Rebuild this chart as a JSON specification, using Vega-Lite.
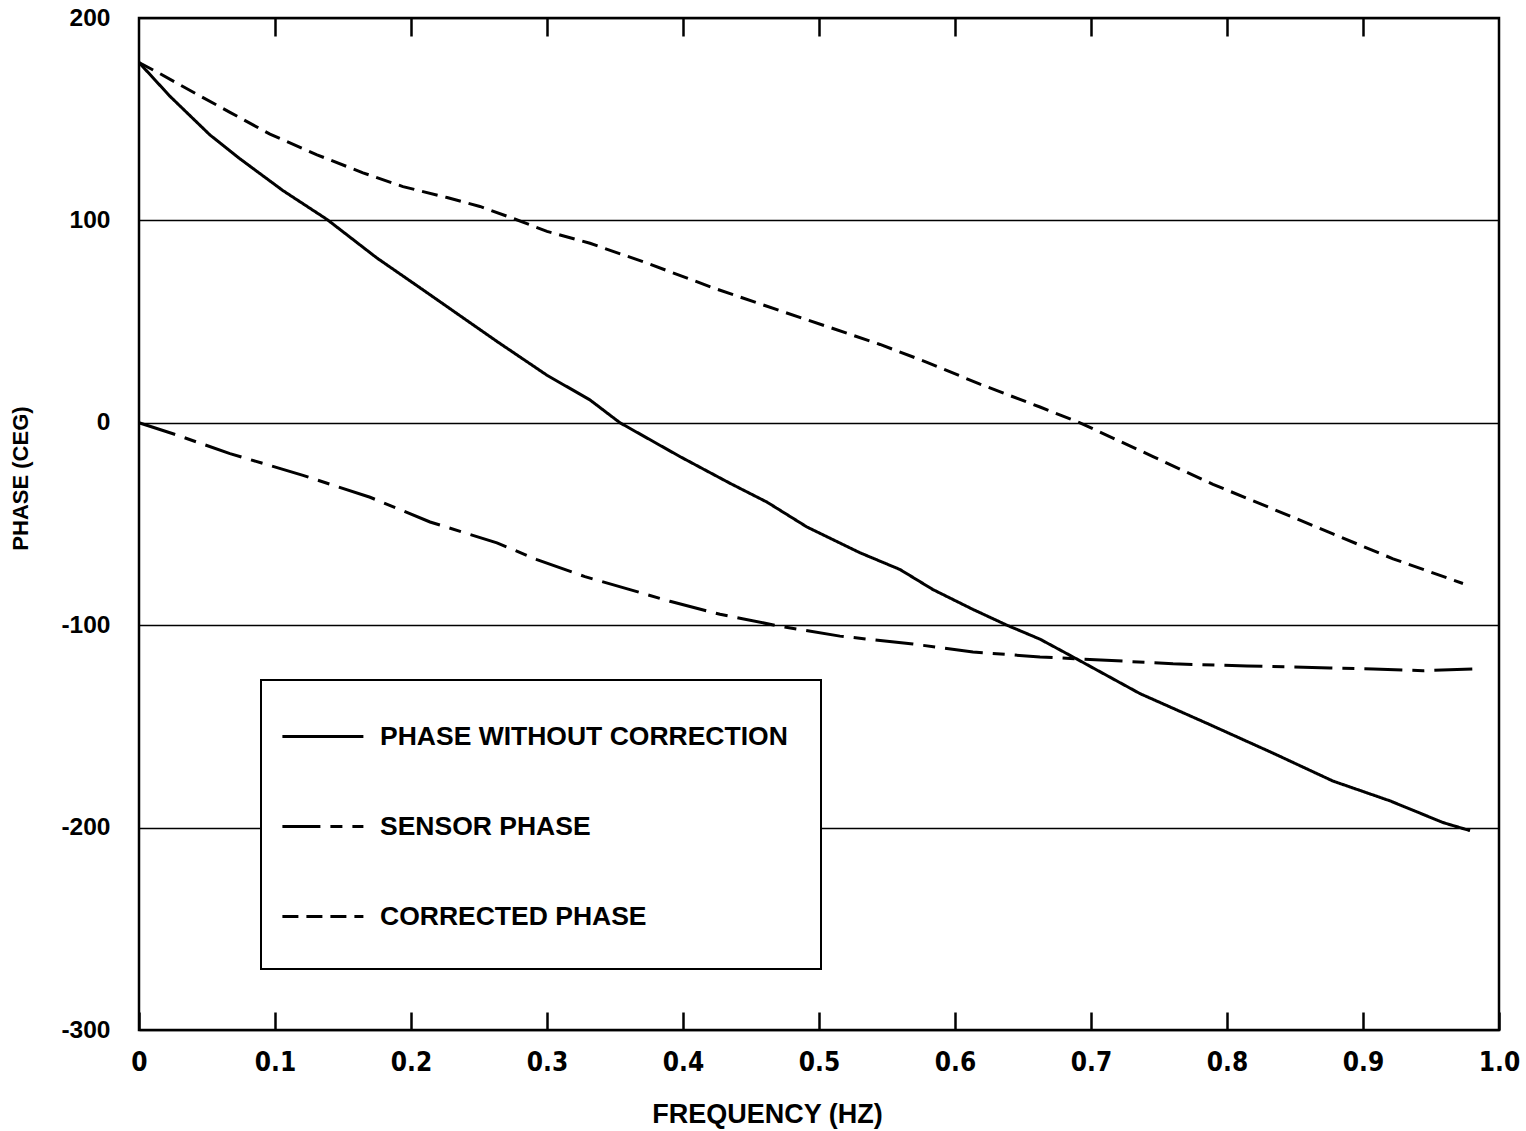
{
  "$schema": "https://vega.github.io/schema/vega-lite/v6.json",
  "width": 1360,
  "height": 1012,
  "autosize": {"type": "none"},
  "padding": {"left": 139, "top": 18, "right": 27, "bottom": 101},
  "background": "white",
  "config": {
    "view": {"stroke": "black", "strokeWidth": 2.5},
    "font": "Liberation Sans"
  },
  "data": {
    "values": [
      {"series": "PHASE WITHOUT CORRECTION", "freq": 0.0, "phase": 178},
      {"series": "PHASE WITHOUT CORRECTION", "freq": 0.0228, "phase": 161.3},
      {"series": "PHASE WITHOUT CORRECTION", "freq": 0.0522, "phase": 142.2},
      {"series": "PHASE WITHOUT CORRECTION", "freq": 0.0743, "phase": 130.4},
      {"series": "PHASE WITHOUT CORRECTION", "freq": 0.1059, "phase": 114.7},
      {"series": "PHASE WITHOUT CORRECTION", "freq": 0.1382, "phase": 100.5},
      {"series": "PHASE WITHOUT CORRECTION", "freq": 0.175, "phase": 81.4},
      {"series": "PHASE WITHOUT CORRECTION", "freq": 0.2088, "phase": 65.7},
      {"series": "PHASE WITHOUT CORRECTION", "freq": 0.2235, "phase": 58.8},
      {"series": "PHASE WITHOUT CORRECTION", "freq": 0.2632, "phase": 40.2},
      {"series": "PHASE WITHOUT CORRECTION", "freq": 0.3, "phase": 23.5},
      {"series": "PHASE WITHOUT CORRECTION", "freq": 0.3316, "phase": 11.3},
      {"series": "PHASE WITHOUT CORRECTION", "freq": 0.3537, "phase": 0},
      {"series": "PHASE WITHOUT CORRECTION", "freq": 0.3978, "phase": -16.7},
      {"series": "PHASE WITHOUT CORRECTION", "freq": 0.4346, "phase": -29.9},
      {"series": "PHASE WITHOUT CORRECTION", "freq": 0.4618, "phase": -39.2},
      {"series": "PHASE WITHOUT CORRECTION", "freq": 0.4912, "phase": -51.5},
      {"series": "PHASE WITHOUT CORRECTION", "freq": 0.5301, "phase": -64.2},
      {"series": "PHASE WITHOUT CORRECTION", "freq": 0.5596, "phase": -72.5},
      {"series": "PHASE WITHOUT CORRECTION", "freq": 0.5838, "phase": -82.4},
      {"series": "PHASE WITHOUT CORRECTION", "freq": 0.6132, "phase": -92.2},
      {"series": "PHASE WITHOUT CORRECTION", "freq": 0.6382, "phase": -100},
      {"series": "PHASE WITHOUT CORRECTION", "freq": 0.6625, "phase": -106.9},
      {"series": "PHASE WITHOUT CORRECTION", "freq": 0.6868, "phase": -115.7},
      {"series": "PHASE WITHOUT CORRECTION", "freq": 0.736, "phase": -133.8},
      {"series": "PHASE WITHOUT CORRECTION", "freq": 0.7853, "phase": -148.5},
      {"series": "PHASE WITHOUT CORRECTION", "freq": 0.8338, "phase": -163.2},
      {"series": "PHASE WITHOUT CORRECTION", "freq": 0.8779, "phase": -177},
      {"series": "PHASE WITHOUT CORRECTION", "freq": 0.9199, "phase": -186.8},
      {"series": "PHASE WITHOUT CORRECTION", "freq": 0.9588, "phase": -197.5},
      {"series": "PHASE WITHOUT CORRECTION", "freq": 0.9787, "phase": -201.5},
      {"series": "SENSOR PHASE", "freq": 0.0, "phase": 0},
      {"series": "SENSOR PHASE", "freq": 0.025, "phase": -5.4},
      {"series": "SENSOR PHASE", "freq": 0.0669, "phase": -15.2},
      {"series": "SENSOR PHASE", "freq": 0.1206, "phase": -26},
      {"series": "SENSOR PHASE", "freq": 0.1699, "phase": -36.8},
      {"series": "SENSOR PHASE", "freq": 0.214, "phase": -49},
      {"series": "SENSOR PHASE", "freq": 0.2632, "phase": -59.3},
      {"series": "SENSOR PHASE", "freq": 0.2926, "phase": -67.6},
      {"series": "SENSOR PHASE", "freq": 0.3279, "phase": -76},
      {"series": "SENSOR PHASE", "freq": 0.361, "phase": -82.4},
      {"series": "SENSOR PHASE", "freq": 0.3904, "phase": -88.2},
      {"series": "SENSOR PHASE", "freq": 0.4272, "phase": -94.6},
      {"series": "SENSOR PHASE", "freq": 0.4713, "phase": -100.5},
      {"series": "SENSOR PHASE", "freq": 0.5154, "phase": -105.4},
      {"series": "SENSOR PHASE", "freq": 0.5691, "phase": -109.3},
      {"series": "SENSOR PHASE", "freq": 0.6132, "phase": -113.2},
      {"series": "SENSOR PHASE", "freq": 0.6625, "phase": -115.7},
      {"series": "SENSOR PHASE", "freq": 0.7191, "phase": -117.6},
      {"series": "SENSOR PHASE", "freq": 0.7603, "phase": -119.1},
      {"series": "SENSOR PHASE", "freq": 0.8147, "phase": -120.1},
      {"series": "SENSOR PHASE", "freq": 0.8757, "phase": -121.1},
      {"series": "SENSOR PHASE", "freq": 0.9074, "phase": -121.6},
      {"series": "SENSOR PHASE", "freq": 0.9441, "phase": -122.5},
      {"series": "SENSOR PHASE", "freq": 0.9838, "phase": -121.6},
      {"series": "CORRECTED PHASE", "freq": 0.0, "phase": 178},
      {"series": "CORRECTED PHASE", "freq": 0.0154, "phase": 172.5},
      {"series": "CORRECTED PHASE", "freq": 0.0426, "phase": 162.3},
      {"series": "CORRECTED PHASE", "freq": 0.0669, "phase": 153.4},
      {"series": "CORRECTED PHASE", "freq": 0.0963, "phase": 142.6},
      {"series": "CORRECTED PHASE", "freq": 0.1309, "phase": 132.4},
      {"series": "CORRECTED PHASE", "freq": 0.1647, "phase": 123.5},
      {"series": "CORRECTED PHASE", "freq": 0.1941, "phase": 116.7},
      {"series": "CORRECTED PHASE", "freq": 0.2265, "phase": 111.3},
      {"series": "CORRECTED PHASE", "freq": 0.2507, "phase": 106.9},
      {"series": "CORRECTED PHASE", "freq": 0.275, "phase": 101},
      {"series": "CORRECTED PHASE", "freq": 0.3, "phase": 94.6},
      {"series": "CORRECTED PHASE", "freq": 0.3316, "phase": 88.7},
      {"series": "CORRECTED PHASE", "freq": 0.3735, "phase": 78.9},
      {"series": "CORRECTED PHASE", "freq": 0.4221, "phase": 66.7},
      {"series": "CORRECTED PHASE", "freq": 0.4713, "phase": 55.4},
      {"series": "CORRECTED PHASE", "freq": 0.5103, "phase": 46.6},
      {"series": "CORRECTED PHASE", "freq": 0.5449, "phase": 38.7},
      {"series": "CORRECTED PHASE", "freq": 0.5794, "phase": 29.9},
      {"series": "CORRECTED PHASE", "freq": 0.6184, "phase": 19.1},
      {"series": "CORRECTED PHASE", "freq": 0.6625, "phase": 7.8},
      {"series": "CORRECTED PHASE", "freq": 0.6919, "phase": 0},
      {"series": "CORRECTED PHASE", "freq": 0.7456, "phase": -16.7},
      {"series": "CORRECTED PHASE", "freq": 0.7897, "phase": -30.4},
      {"series": "CORRECTED PHASE", "freq": 0.8338, "phase": -42.6},
      {"series": "CORRECTED PHASE", "freq": 0.8779, "phase": -54.9},
      {"series": "CORRECTED PHASE", "freq": 0.9221, "phase": -67.2},
      {"series": "CORRECTED PHASE", "freq": 0.9735, "phase": -79.4}
    ]
  },
  "resolve": {"axis": {"x": "independent"}},
  "layer": [
    {
      "mark": {"type": "line", "strokeWidth": 3, "color": "black"},
      "encoding": {
        "x": {
          "field": "freq", "type": "quantitative",
          "scale": {"domain": [0, 1], "nice": false, "zero": false},
          "axis": {
            "orient": "bottom",
            "values": [0, 0.1, 0.2, 0.3, 0.4, 0.5, 0.6, 0.7, 0.8, 0.9, 1.0],
            "labelExpr": "datum.value == 0 ? '0' : format(datum.value, '.1f')",
            "domain": false, "grid": false,
            "ticks": true, "tickSize": -18, "tickWidth": 2.5, "tickColor": "black",
            "labelPadding": 37, "labelFontSize": 26, "labelFontWeight": "bold", "labelColor": "black",
            "labelFont": "Liberation Sans Narrow, DejaVu Sans Condensed, sans-serif",
            "labelBaseline": "top", "labelFlush": false,
            "title": "FREQUENCY (HZ)", "titleFontSize": 27, "titleFontWeight": "bold", "titleColor": "black",
            "titleX": 628, "titleY": 92, "titleBaseline": "alphabetic", "titleAlign": "center"
          }
        },
        "y": {
          "field": "phase", "type": "quantitative",
          "scale": {"domain": [-300, 200], "nice": false, "zero": false},
          "axis": {
            "values": [-300, -200, -100, 0, 100, 200],
            "labelExpr": "'' + datum.value",
            "grid": true, "gridColor": "black", "gridWidth": 1.5, "gridOpacity": 1,
            "ticks": false, "domain": false,
            "labelPadding": 29, "labelFontSize": 24.5, "labelFontWeight": "bold", "labelColor": "black",
            "title": "PHASE (CEG)", "titleFontSize": 22, "titleFontWeight": "bold", "titleColor": "black",
            "titleX": -107, "titleY": 460, "titleAlign": "center", "titleBaseline": "bottom", "titleAngle": -90
          }
        },
        "strokeDash": {
          "field": "series", "type": "nominal",
          "scale": {
            "domain": ["PHASE WITHOUT CORRECTION", "SENSOR PHASE", "CORRECTED PHASE"],
            "range": [[1, 0], [38, 10, 12, 10], [16, 8]]
          },
          "legend": {
            "title": " ", "titleOrient": "right", "titlePadding": 23, "titleFontSize": 10,
            "orient": "none", "legendX": 122, "legendY": 662,
            "fillColor": "white", "strokeColor": "black", "padding": 10,
            "symbolType": "M-0.78,0H1.02M0,-0.8M0,0.8", "symbolSize": 8100, "symbolStrokeWidth": 3,
            "symbolStrokeColor": "black", "symbolFillColor": "transparent",
            "labelFontSize": 26.5, "labelFontWeight": "bold", "labelColor": "black", "labelOffset": 16, "labelLimit": 700,
            "rowPadding": 1,
            "encode": {"legend": {"update": {"strokeWidth": {"value": 2}}}}
          }
        }
      }
    },
    {
      "mark": {"type": "line", "opacity": 0},
      "encoding": {
        "x": {
          "field": "freq", "type": "quantitative",
          "axis": {
            "orient": "top",
            "values": [0.1, 0.2, 0.3, 0.4, 0.5, 0.6, 0.7, 0.8, 0.9],
            "labels": false, "domain": false, "grid": false, "title": null,
            "ticks": true, "tickSize": -18, "tickWidth": 2.5, "tickColor": "black"
          }
        },
        "y": {"field": "phase", "type": "quantitative"},
        "detail": {"field": "series", "type": "nominal"}
      }
    }
  ]
}
